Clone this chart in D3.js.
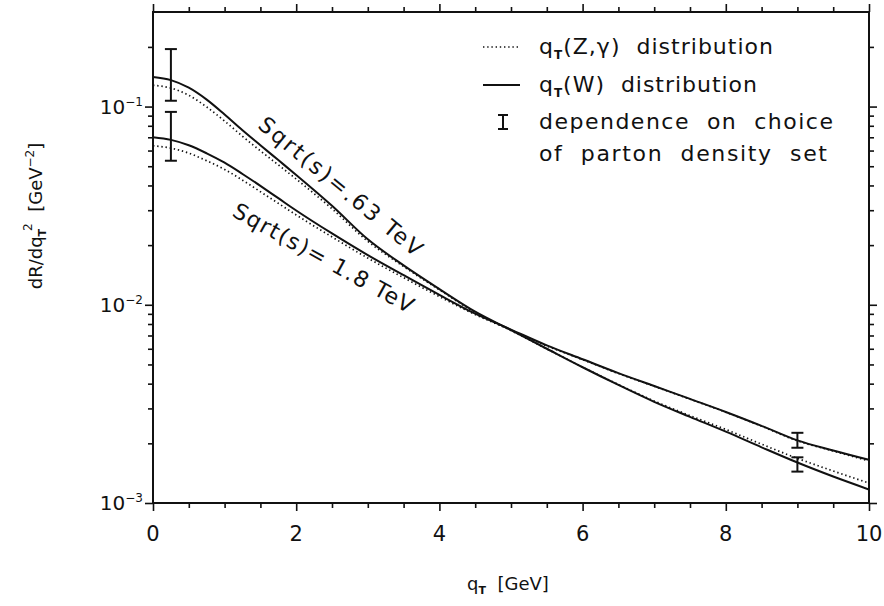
<!DOCTYPE html>
<html><head><meta charset="utf-8">
<script src="https://cdn.jsdelivr.net/npm/d3@7"></script>
<style>body{margin:0;background:#fff}svg{display:block}</style>
</head><body><svg id="c" width="884" height="606"></svg>
<script>
// ---------- data ----------
const qGrid = [0,0.25,0.5,0.75,1,1.25,1.5,1.75,2,2.5,3,3.5,4,4.5,5,5.5,6,6.5,7,7.5,8,8.5,9,9.5,10];
// Sqrt(s)=.63 TeV
const w063 = [0.141,0.136,0.1245,0.1084,0.0912,0.0759,0.0638,0.0537,0.0452,0.0316,0.0214,0.0158,0.0120,0.00923,0.00745,0.00600,0.00484,0.00394,0.00324,0.00272,0.00229,0.00191,0.00160,0.00136,0.00117];
const z063 = [0.128,0.124,0.114,0.0995,0.0845,0.0708,0.0598,0.0508,0.0431,0.0305,0.0209,0.0156,0.0119,0.00915,0.00742,0.00599,0.00485,0.00396,0.00327,0.00276,0.00235,0.00198,0.00168,0.00145,0.00126];
// Sqrt(s)=1.8 TeV
const w18 = [0.0700,0.0679,0.0638,0.0581,0.0521,0.0457,0.0398,0.0345,0.0299,0.0229,0.0178,0.0141,0.01122,0.00902,0.00750,0.00624,0.00531,0.00452,0.00389,0.00335,0.00288,0.00245,0.00207,0.00184,0.00165];
const z18 = [0.0634,0.0617,0.0582,0.0533,0.0482,0.0425,0.0372,0.0325,0.0284,0.0220,0.0172,0.0137,0.0110,0.00893,0.00745,0.00620,0.00529,0.00450,0.00388,0.00334,0.00287,0.00244,0.00206,0.00183,0.00163];
// parton density error bars
const errQ  = [0.25, 0.25, 9, 9];
const errLo = [0.107, 0.0533, 0.00190, 0.00144];
const errHi = [0.195, 0.094, 0.00226, 0.00170];
// axes
const xMajorTicks = [0,2,4,6,8,10];
const xTickLabels = ["0","2","4","6","8","10"];
const yMajorTicks = [1e-3,1e-2,1e-1];
const yTickExp = ["−3","−2","−1"];
const curveLabels = [
  {text:"Sqrt(s)=.63 TeV", q:2.62, v:0.0395, angle:39.5, len:205},
  {text:"Sqrt(s)= 1.8 TeV", q:2.38, v:0.0172, angle:29, len:203}
];

// ---------- layout ----------
const FONT = "'DejaVu Sans', 'Liberation Sans', sans-serif";
const INK = "#111";
const svg = d3.select("#c");
const m = {l:153, r:869, t:12, b:503};
const x = d3.scaleLinear().domain([0,10]).range([m.l, m.r]);
const y = d3.scaleLog().domain([1e-3, 0.3]).range([m.b, m.t]);

svg.append("rect").attr("width",884).attr("height",606).attr("fill","#fff");

// ticks
const xMinor = d3.range(0.5, 10, 0.5).filter(v => xMajorTicks.indexOf(v) < 0);
const yMinor = [];
yMajorTicks.forEach(d => { for (let k=2;k<=9;k++){ const v=d*k; if (v<0.3-1e-9) yMinor.push(v);} });

function axisG(gen, tr, vals, size){
  const g = svg.append("g").attr("transform", tr)
    .call(gen.tickValues(vals).tickSize(size).tickFormat(""));
  g.select(".domain").remove();
  g.selectAll("line").attr("stroke", INK).attr("stroke-width", 1.6);
  g.selectAll("text").remove();
  return g;
}
axisG(d3.axisBottom(x), `translate(0,${m.b})`, xMajorTicks, 8);
axisG(d3.axisBottom(x), `translate(0,${m.b})`, xMinor, 5);
axisG(d3.axisTop(x), `translate(0,${m.t})`, xMajorTicks, 8);
axisG(d3.axisTop(x), `translate(0,${m.t})`, xMinor, 5);
axisG(d3.axisLeft(y), `translate(${m.l},0)`, yMajorTicks, 8);
axisG(d3.axisLeft(y), `translate(${m.l},0)`, yMinor, 5);
axisG(d3.axisRight(y), `translate(${m.r},0)`, yMajorTicks, 8);
axisG(d3.axisRight(y), `translate(${m.r},0)`, yMinor, 5);

// frame
svg.append("rect").attr("x",m.l).attr("y",m.t).attr("width",m.r-m.l).attr("height",m.b-m.t)
  .attr("fill","none").attr("stroke",INK).attr("stroke-width",2);

// tick labels
svg.append("g").selectAll("text").data(xMajorTicks).join("text")
  .attr("x", d => x(d)).attr("y", m.b + 38)
  .attr("text-anchor","middle").attr("font-family",FONT).attr("font-size",21).attr("fill",INK)
  .text((d,i) => xTickLabels[i]);

const yl = svg.append("g").selectAll("text").data(yMajorTicks).join("text")
  .attr("x", m.l - 10).attr("y", d => y(d) + 7)
  .attr("text-anchor","end").attr("font-family",FONT).attr("font-size",20).attr("fill",INK);
yl.append("tspan").text("10");
yl.append("tspan").attr("font-size",12).attr("dy",-8).text((d,i)=>yTickExp[i]);

// axis titles
const xt = svg.append("text").attr("x", 508).attr("y", 590).attr("text-anchor","middle")
  .attr("font-family",FONT).attr("font-size",18).attr("fill",INK).attr("style","white-space:pre");
xt.append("tspan").text("q");
xt.append("tspan").attr("font-size",11).attr("dy",4).attr("font-weight","bold").text("T");
xt.append("tspan").attr("dy",-4).text("  [GeV]");

const yt = svg.append("text").attr("transform","translate(42,216) rotate(-90)").attr("text-anchor","middle")
  .attr("font-family",FONT).attr("font-size",18).attr("fill",INK).attr("style","white-space:pre");
yt.append("tspan").text("dR/dq");
yt.append("tspan").attr("font-size",11).attr("dy",4).attr("font-weight","bold").text("T");
yt.append("tspan").attr("font-size",12).attr("dy",-14).attr("dx",-2).text("2");
yt.append("tspan").attr("dy",10).text("  [GeV");
yt.append("tspan").attr("font-size",12).attr("dy",-8).text("−2");
yt.append("tspan").attr("dy",8).text("]");

// curves
svg.append("clipPath").attr("id","pc").append("rect")
  .attr("x",m.l).attr("y",m.t).attr("width",m.r-m.l).attr("height",m.b-m.t);
const line = d3.line().x(d=>x(d[0])).y(d=>y(d[1])).curve(d3.curveMonotoneX);
const plot = svg.append("g").attr("clip-path","url(#pc)");
[[z063,true],[z18,true],[w063,false],[w18,false]].forEach(([vals,dotted]) => {
  plot.append("path").datum(qGrid.map((q,i)=>[q, vals[i]]))
    .attr("d", line).attr("fill","none").attr("stroke",INK)
    .attr("stroke-width", dotted ? 1.7 : 2)
    .attr("stroke-dasharray", dotted ? "1.4 2.8" : null);
});

// error bars
const eb = plot.append("g").selectAll("g").data(errQ.map((q,i)=>({q, lo:errLo[i], hi:errHi[i]}))).join("g")
  .attr("stroke",INK).attr("stroke-width",2);
eb.append("line").attr("x1",d=>x(d.q)).attr("x2",d=>x(d.q)).attr("y1",d=>y(d.lo)).attr("y2",d=>y(d.hi));
eb.append("line").attr("x1",d=>x(d.q)-6).attr("x2",d=>x(d.q)+6).attr("y1",d=>y(d.lo)).attr("y2",d=>y(d.lo));
eb.append("line").attr("x1",d=>x(d.q)-6).attr("x2",d=>x(d.q)+6).attr("y1",d=>y(d.hi)).attr("y2",d=>y(d.hi));

// curve labels
curveLabels.forEach(c => {
  svg.append("text").attr("transform",`translate(${x(c.q)},${y(c.v)}) rotate(${c.angle})`)
    .attr("text-anchor","middle").attr("dominant-baseline","central")
    .attr("font-family",FONT).attr("font-size",22).attr("fill",INK)
    .attr("textLength",c.len).attr("lengthAdjust","spacing")
    .text(c.text);
});

// legend
const lg = svg.append("g").attr("font-family",FONT).attr("font-size",22).attr("fill",INK);
const ly = [47, 85, 122, 154];
const tx = 539;
lg.append("line").attr("x1",483).attr("x2",518).attr("y1",ly[0]).attr("y2",ly[0])
  .attr("stroke",INK).attr("stroke-width",1.7).attr("stroke-dasharray","1.4 2.8");
lg.append("line").attr("x1",483).attr("x2",520).attr("y1",ly[1]).attr("y2",ly[1])
  .attr("stroke",INK).attr("stroke-width",2);
const ig = lg.append("g").attr("stroke",INK).attr("stroke-width",2);
ig.append("line").attr("x1",503).attr("x2",503).attr("y1",ly[2]-7).attr("y2",ly[2]+7);
ig.append("line").attr("x1",498).attr("x2",508).attr("y1",ly[2]-7).attr("y2",ly[2]-7);
ig.append("line").attr("x1",498).attr("x2",508).attr("y1",ly[2]+7).attr("y2",ly[2]+7);

function legText(yy, parts, len){
  const t = lg.append("text").attr("x",tx).attr("y",yy+7).attr("style","white-space:pre");
  parts.forEach(p => {
    const s = t.append("tspan").text(p.t);
    if (p.sub) s.attr("font-size",12).attr("font-weight","bold").attr("dy",5);
    if (p.back) s.attr("dy",-5);
  });
  if (len) t.attr("textLength",len).attr("lengthAdjust","spacing");
}
legText(ly[0], [{t:"q"},{t:"T",sub:true},{t:"(Z,γ)  distribution",back:true}], 234);
legText(ly[1], [{t:"q"},{t:"T",sub:true},{t:"(W)  distribution",back:true}], 218);
legText(ly[2], [{t:"dependence  on  choice"}], 294);
legText(ly[3], [{t:"of  parton  density  set"}], 288);
</script></body></html>
